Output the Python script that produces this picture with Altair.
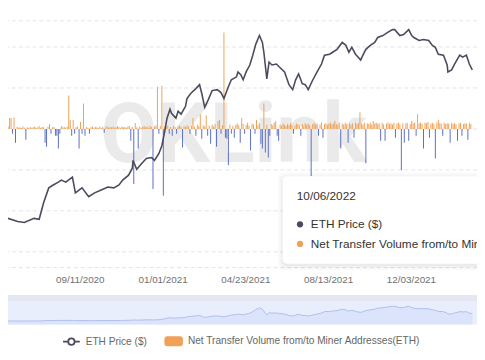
import altair as alt
import pandas as pd

# ---------------- data ----------------
START = "2020-06-02"

# ETH price (days after START, USD)
price_day = [0, 17, 26, 39, 46, 52, 59, 65, 72, 76, 82, 91, 95, 104, 113, 121, 130, 139, 147, 154,
             159, 167, 172, 173, 178, 185, 191, 198, 202, 208, 212, 216, 219, 223, 225, 231, 234, 238, 244, 246,
             251, 258, 263, 266, 270, 275, 280, 287, 292, 296, 302, 306, 313, 315, 319, 322, 326, 331, 335, 339,
             344, 348, 350, 354, 357, 361, 367, 371, 378, 384, 389, 393, 397, 402, 406, 410, 415, 422, 428, 432,
             439, 443, 449, 456, 461, 465, 469, 474, 481, 484, 488, 494, 500, 504, 511, 517, 524, 527, 534, 539,
             546, 550, 553, 560, 566, 573, 578, 582, 586, 593, 598, 599, 604, 608, 615, 619, 624, 628, 632]
price_usd = [197, 184, 181, 194, 191, 252, 324, 340, 357, 369, 357, 388, 298, 324, 279, 298, 313, 329, 324, 340,
             369, 401, 451, 514, 443, 490, 532, 540, 514, 578, 659, 845, 1047, 1216, 1137, 1047, 1176, 1119, 1277, 1457,
             1583, 1720, 1838, 1583, 1256, 1434, 1664, 1691, 1609, 1457, 1777, 1995, 2097, 2278, 2168, 1995, 2278, 2558, 3018, 3620,
             4200, 3741, 3171, 2029, 2688, 2558, 2600, 2474, 2278, 1838, 1691, 1995, 2204, 1868, 1838, 1691, 1931, 2278, 2600, 3018,
             3068, 3171, 3332, 3741, 3560, 3171, 3444, 3068, 2778, 3018, 3332, 3560, 3741, 4063, 4200, 4414, 4638, 4638, 4200, 4270,
             4638, 4200, 4063, 3867, 3931, 3867, 3560, 3444, 3068, 3018, 2558, 2278, 2354, 2600, 3018, 2919, 3018, 2600, 2354]

# Net transfer volume from/to miner addresses (ETH), one bar every 2 days from START
net_volume = [
    480, 40, 60, 264, 264, -120, 288, -336, 50, 30, 40, 20, 60, 30, -264, 40, 20, 50, 30, 40,
    60, 30, 40, 70, 30, 50, 40, -336, -432, 60, 120, -120, 40, 50, -168, -168, -480, -120, 70, 40,
    50, 30, 60, 816, 216, -168, 216, -120, 40, 60, -480, 168, -120, 624, -168, 50, 30, -120, 40, 60,
    30, 50, 40, 20, 60, 30, 50, -96, 40, 70, 30, 50, 40, 60, 30, 40, 70, 50, 30, 60,
    40, 50, 30, 60, 70, -288, 50, -1344, 144, 40, -480, 60, 30, 50, 70, 40, 60, 30, 80, 50,
    -1464, 60, 90, 1032, -120, 70, 1056, -1632, 60, 40, 80, -120, 50, -168, 70, 40, -120, 60, 90, 50,
    -456, 70, 50, 90, 60, -120, 80, 264, 60, -168, 100, 70, 360, -240, 90, 60, 336, -168, 80, -360,
    100, 60, 120, -432, 192, 216, -120, 90, 2352, -216, -240, -888, 110, -120, 80, -216, 100, 130, 90, -336,
    264, 120, -120, 100, 150, 80, -528, 130, 110, -120, 216, 90, 140, -360, -480, 624, -576, 100, -696, -168,
    120, 90, 150, 192, -168, -288, 110, 80, 130, 100, 70, 120, 90, 140, 100, -120, 80, 130, 110, 90,
    -168, 120, 80, 140, 100, 130, 90, -1152, 120, 150, 100, 130, -168, 110, 160, -216, 120, 140, 100, 130,
    150, 110, 140, 192, 120, 100, 160, -480, 130, 110, 150, 120, -336, 140, 100, 130, -216, 160, 120, 140,
    408, 130, 110, 160, -840, 140, 120, 150, 110, 192, 130, 160, 120, 140, -288, 150, 110, -288, 130, 160,
    120, 140, 110, 150, -216, 130, 160, 120, -1008, 140, -336, 130, 150, -288, 120, 192, 140, 160, -168, 360,
    130, 160, 120, -480, 150, 140, 170, -216, 130, 150, 120, -720, 160, 216, 140, 130, -168, 150, 120, 140,
    130, -336, 150, 120, 140, 110, -288, 130, 150, -168, 120, 140, 130, -264, 150, 120,
]

grid_values = [2640, 2000, 1000, 0, -1000, -2000, -3000, -3384]
tick_dates = [(2020, 5, 22), (2020, 9, 11), (2021, 1, 1), (2021, 4, 23),
              (2021, 8, 13), (2021, 12, 3), (2022, 3, 25)]
legend_names = ["ETH Price ($)", "Net Transfer Volume from/to Miner Addresses(ETH)"]
tooltip_date = "10/06/2022"

# ---------------- style ----------------
LINE = "#4a4b5e"
ORANGE = "#f0a156"
BLUE = "#5b6ec6"
FONT = "Liberation Sans"
W, H = 477, 261

start = pd.Timestamp(START)
price_df = pd.DataFrame({"date": start + pd.to_timedelta(price_day, unit="D"), "price": price_usd})
bar_df = pd.DataFrame({"date": pd.date_range(START, periods=len(net_volume), freq="2D"), "v": net_volume})
grid_df = pd.DataFrame({"g": grid_values})

x_scale = alt.Scale(domain=[alt.DateTime(year=2020, month=6, date=12, hours=12),
                            alt.DateTime(year=2022, month=2, date=23, hours=17)], nice=False)
vol_scale = alt.Scale(domain=[-3384, 2880], nice=False, zero=False)
price_scale = alt.Scale(type="log", domain=[84.8, 6350], nice=False)
nav_scale = alt.Scale(domain=[-900, 8011], range=[319, 289], nice=False, zero=False)

x_axis = alt.Axis(values=[alt.DateTime(year=y, month=m, date=d) for y, m, d in tick_dates],
                  format="%m/%d/%Y", labelFont=FONT, labelFontSize=10, labelColor="#707070",
                  grid=False, domain=False, ticks=False, labelPadding=7, labelOverlap=False,
                  labelFlush=False, labelBound=False, title=None)

def xenc():
    return alt.X("date:T", scale=x_scale, axis=x_axis, title=None)

base_empty = alt.Chart(pd.DataFrame({"k": [0]}))

watermark = base_empty.mark_text(text="OKLink", font="Roboto", fontWeight="bold", fontSize=84,
                                 color="#eaeaea", align="center", baseline="alphabetic").encode(
    x=alt.value(229.5), y=alt.value(154))

grid = alt.Chart(grid_df).mark_rule(color="#e3e3e3", strokeDash=[4, 3], strokeWidth=1).encode(
    y=alt.Y("g:Q", scale=vol_scale, axis=None))

bars = alt.Chart(bar_df).mark_bar(width=1, clip=True).encode(
    x=xenc(),
    y=alt.Y("v:Q", scale=vol_scale, axis=None),
    y2=alt.datum(0),
    color=alt.condition("datum.v >= 0", alt.value(ORANGE), alt.value(BLUE)),
)

line = alt.Chart(price_df).mark_line(color=LINE, strokeWidth=1.6, clip=True).encode(
    x=xenc(),
    y=alt.Y("price:Q", scale=price_scale, axis=None),
)

nav_strip = base_empty.mark_rect(color="#e4e7f1").encode(
    x=alt.value(0), x2=alt.value(W), y=alt.value(289), y2=alt.value(295))
nav_band = base_empty.mark_rect(color="#e9eefd").encode(
    x=alt.value(0), x2=alt.value(W), y=alt.value(295), y2=alt.value(319))
nav_area = alt.Chart(price_df).mark_area(color="#d5dffa", line={"color": "#adbff0", "strokeWidth": 1}).encode(
    x=xenc(),
    y=alt.Y("price:Q", scale=nav_scale, axis=None),
    y2=alt.datum(-900),
)

# tooltip box
shadows = [
    base_empty.mark_rect(color="#000000", opacity=op, cornerRadius=6).encode(
        x=alt.value(279 - e), x2=alt.value(500), y=alt.value(168 - e + 1), y2=alt.value(257 + e + 2))
    for e, op in [(5, 0.015), (3, 0.025), (1, 0.04)]
]
box = base_empty.mark_rect(color="#ffffff", cornerRadius=4).encode(
    x=alt.value(279.3), x2=alt.value(500), y=alt.value(168), y2=alt.value(257))
tt_date = base_empty.mark_text(text=tooltip_date, font=FONT, fontSize=12, color="#333333",
                               align="left", baseline="middle").encode(x=alt.value(293.7), y=alt.value(188.7))
tt_dot1 = base_empty.mark_circle(color=LINE, size=40, opacity=1).encode(x=alt.value(297), y=alt.value(217))
tt_dot2 = base_empty.mark_circle(color=ORANGE, size=40, opacity=1).encode(x=alt.value(297), y=alt.value(237))
tt_t1 = base_empty.mark_text(text=legend_names[0], font=FONT, fontSize=12, color="#333333",
                             align="left", baseline="middle").encode(x=alt.value(308), y=alt.value(217))
tt_t2 = base_empty.mark_text(text=legend_names[1], font=FONT, fontSize=12, color="#333333",
                             align="left", baseline="middle").encode(x=alt.value(308), y=alt.value(237))

# legend
SYM_LINE = "M-1,0H-0.38M0.38,0H1M0.38,0A0.38,0.38,0,1,1,-0.38,0A0.38,0.38,0,1,1,0.38,0"
SYM_RECT = ("M-0.76,-0.49H0.76A0.24,0.24,0,0,1,1,-0.25V0.25A0.24,0.24,0,0,1,0.76,0.49"
            "H-0.76A0.24,0.24,0,0,1,-1,0.25V-0.25A0.24,0.24,0,0,1,-0.76,-0.49Z")
legend_def = alt.Legend(orient="none", legendX=55, legendY=326, direction="horizontal", title=None,
                        labelFont=FONT, labelFontSize=10.3, labelColor="#666666", symbolSize=289,
                        symbolStrokeWidth=1.8, labelOffset=5, columnPadding=14, symbolOpacity=1,
                        labelLimit=400)
legend_layer = alt.Chart(pd.DataFrame({"s": legend_names})).mark_point(strokeWidth=1.8).encode(
    x=alt.value(-200), y=alt.value(-200),
    color=alt.Color("s:N", scale=alt.Scale(domain=legend_names, range=[LINE, ORANGE]), legend=legend_def),
    fill=alt.Fill("s:N", scale=alt.Scale(domain=legend_names, range=["#ffffff", ORANGE]), legend=legend_def),
    shape=alt.Shape("s:N", scale=alt.Scale(domain=legend_names, range=[SYM_LINE, SYM_RECT]), legend=legend_def),
)

chart = alt.layer(
    watermark, grid, bars, line, nav_strip, nav_band, nav_area,
    *shadows, box, tt_date, tt_dot1, tt_dot2, tt_t1, tt_t2, legend_layer
).resolve_scale(y="independent").properties(
    width=W, height=H,
    padding={"left": 0, "top": 0, "right": 0, "bottom": 91},
    autosize=alt.AutoSizeParams(type="none"),
).configure_view(strokeWidth=0)

chart.save("out.html", embed_options={"renderer": "svg", "actions": False})
